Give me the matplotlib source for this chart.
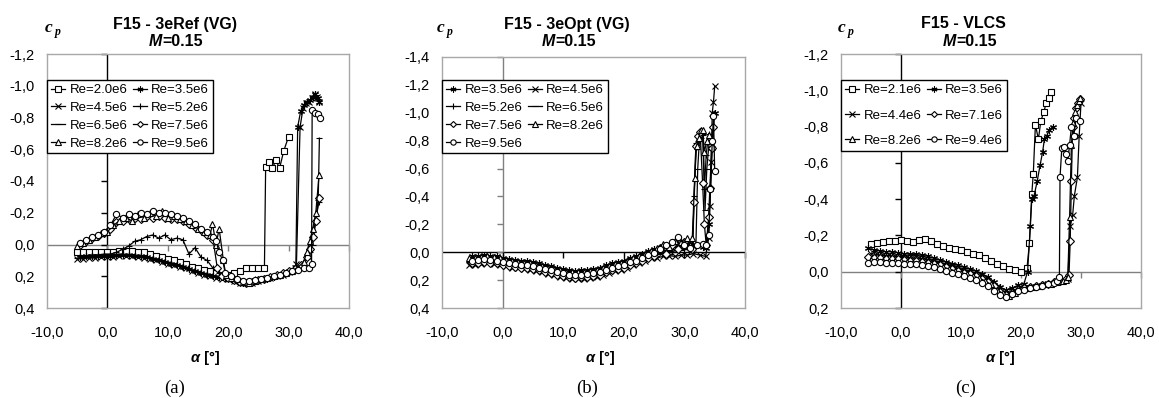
import matplotlib
matplotlib.use('Agg')
import matplotlib.pyplot as plt
from matplotlib.markers import TICKLEFT, TICKDOWN

plt.rcParams['font.family'] = ['Liberation Sans', 'DejaVu Sans']

# ---------------- shared alpha grids ----------------
GA1 = [-5, -4, -3, -2, -1, 0, 1, 2, 3, 4, 5, 6, 7, 8, 9, 10, 11, 12, 13, 14,
       15, 16, 17, 18, 19, 20, 21, 22, 23, 24, 25, 26, 27, 28, 29, 30, 31, 32, 33]
GA2 = [-4.5, -3.5, -2.5, -1.5, -0.5, 0.5, 1.5, 2.5, 3.5, 4.5, 5.5, 6.5, 7.5, 8.5,
       9.5, 10.5, 11.5, 12.5, 13.5, 14.5, 15.5, 16.5, 17.5, 18.5, 19.5, 20.5, 21.5,
       22.5, 23.5, 24.5, 25.5, 26.5, 27.5, 28.5, 29.5, 30.5, 31.5, 32.5]
GB1 = GA1
GB2 = [-5.5] + GA2 + [33.5]
GC1 = GA1[:33]
GC2 = [-5.5] + GA2[:33]

# ---------------- panel (a): F15 - 3eRef (VG) ----------------
A_RE20 = [0.05, 0.05, 0.05, 0.05, 0.045, 0.045, 0.045, 0.04, 0.04, 0.04,
          0.045, 0.05, 0.06, 0.07, 0.08, 0.09, 0.10, 0.11, 0.12, 0.14,
          0.15, 0.16, 0.17, 0.18, 0.19, 0.19, 0.18, 0.17]
A_RE20_TA = [23, 24, 25, 26, 26.2, 26.7, 27.3, 27.9, 28.5, 29.2, 30.0]
A_RE20_TC = [0.15, 0.15, 0.15, 0.145, -0.49, -0.52, -0.48, -0.53, -0.48, -0.59, -0.68]

A_RE35 = [0.08, 0.075, 0.075, 0.07, 0.07, 0.07, 0.065, 0.065, 0.065, 0.07,
          0.075, 0.08, 0.09, 0.10, 0.11, 0.12, 0.13, 0.14, 0.155, 0.17,
          0.18, 0.19, 0.2, 0.205, 0.21, 0.22, 0.23, 0.24, 0.235, 0.23,
          0.22, 0.215, 0.205, 0.195, 0.18, 0.165]
A_RE35_TA = [31.2, 31.5, 32.0, 32.5, 33.0, 33.5, 34.0, 34.4, 34.8, 35.1]
A_RE35_TC = [0.14, -0.74, -0.84, -0.88, -0.9, -0.91, -0.93, -0.95, -0.92, -0.9]

A_RE45 = [0.09, 0.09, 0.085, 0.085, 0.08, 0.08, 0.08, 0.075, 0.075, 0.075,
          0.08, 0.085, 0.09, 0.1, 0.11, 0.12, 0.13, 0.14, 0.15, 0.165,
          0.18, 0.19, 0.2, 0.21, 0.215, 0.22, 0.23, 0.24, 0.245, 0.24,
          0.23, 0.22, 0.21, 0.2, 0.19, 0.175]
A_RE45_TA = [31.0, 31.3, 31.9, 32.4, 32.9, 33.4, 33.9, 34.3, 34.7, 35.0]
A_RE45_TC = [0.15, 0.12, -0.74, -0.86, -0.89, -0.9, -0.92, -0.95, -0.93, -0.9]

A_RE52 = [0.07, 0.07, 0.065, 0.065, 0.06, 0.06, 0.05, 0.03, 0.01, -0.02,
          -0.03, -0.05, -0.06, -0.04, -0.06, -0.03, -0.04, -0.03, 0.06, 0.02,
          0.08, 0.1]
A_RE52_TA = [17.5, 18.5, 19.5, 20.5, 21.5, 22.5, 23.5, 24.5, 25.5, 26.5, 27.5,
             28.5, 29.5, 30.5, 31.5, 32.5, 33.0, 33.5, 34.0, 34.5, 35.0]
A_RE52_TC = [0.15, 0.18, 0.2, 0.21, 0.22, 0.23, 0.23, 0.22, 0.215, 0.21, 0.2,
             0.19, 0.18, 0.17, 0.15, 0.11, 0.06, 0.02, -0.05, -0.15, -0.27]

A_RE65 = [0.085, 0.08, 0.08, 0.075, 0.075, 0.07, 0.07, 0.07, 0.065, 0.065,
          0.07, 0.075, 0.085, 0.09, 0.1, 0.11, 0.12, 0.13, 0.145, 0.16,
          0.17, 0.18, 0.19, 0.2, 0.21, 0.215, 0.225, 0.235, 0.24, 0.235,
          0.225, 0.215, 0.205, 0.195, 0.185, 0.17, 0.155, 0.13, 0.09]
A_RE65_TA = [33.5, 34.0, 34.5, 34.9, 35.1]
A_RE65_TC = [0.05, 0.0, -0.15, -0.28, -0.67]

A_RE75 = [0.0, -0.02, -0.04, -0.055, -0.07, -0.1, -0.14, -0.15, -0.16, -0.17,
          -0.16, -0.18, -0.17, -0.18, -0.17, -0.16, -0.16, -0.15, -0.13, -0.11,
          -0.09, -0.06, -0.03]
A_RE75_TA = [18.2, 19.0, 20.0, 21.0, 22.0, 23.0, 24.0, 25.0, 26.0, 27.0, 28.0,
             29.0, 30.0, 31.0, 32.0, 33.0, 33.5, 34.0, 34.5, 35.0]
A_RE75_TC = [0.15, 0.2, 0.21, 0.225, 0.235, 0.24, 0.235, 0.225, 0.215, 0.205,
             0.195, 0.18, 0.17, 0.155, 0.13, 0.08, 0.03, -0.05, -0.15, -0.29]

A_RE82 = [0.01, -0.01, -0.03, -0.05, -0.07, -0.08, -0.12, -0.15, -0.17, -0.15,
          -0.19, -0.17, -0.2, -0.18, -0.21, -0.17, -0.18, -0.16, -0.15, -0.12,
          -0.1, -0.08, -0.06]
A_RE82_TA = [17.4, 18.0, 18.5, 19.2, 19.6, 20.5, 21.5, 22.5, 23.5, 24.5, 25.5,
             26.5, 27.5, 28.5, 29.5, 30.5, 31.5, 32.5, 33.0, 33.5, 34.0, 34.5, 35.05]
A_RE82_TC = [-0.13, 0.0, -0.1, 0.1, 0.19, 0.21, 0.22, 0.235, 0.24, 0.23, 0.22,
             0.21, 0.2, 0.19, 0.18, 0.165, 0.145, 0.11, 0.05, -0.02, -0.1, -0.2, -0.44]

A_RE95 = [-0.01, -0.03, -0.05, -0.06, -0.08, -0.12, -0.19, -0.17, -0.19, -0.18,
          -0.2, -0.19, -0.21, -0.2, -0.2, -0.19, -0.18, -0.17, -0.15, -0.13,
          -0.1, -0.08, -0.05]
A_RE95_TA = [18.0, 18.5, 19.1, 19.5, 20.5, 21.5, 22.5, 23.5, 24.5, 25.5, 26.5,
             27.5, 28.5, 29.5, 30.5, 31.5, 32.5, 33.3, 33.8, 33.9, 34.4, 34.8, 35.2]
A_RE95_TC = [-0.02, 0.05, 0.1, 0.18, 0.2, 0.215, 0.23, 0.23, 0.225, 0.215, 0.21,
             0.2, 0.19, 0.18, 0.17, 0.16, 0.15, 0.15, 0.12, -0.85, -0.83, -0.82, -0.8]

# ---------------- panel (b): F15 - 3eOpt (VG) ----------------
B_RE35 = [0.03, 0.025, 0.02, 0.025, 0.03, 0.04, 0.05, 0.055, 0.06, 0.065,
          0.07, 0.08, 0.09, 0.1, 0.11, 0.12, 0.13, 0.135, 0.13, 0.125,
          0.12, 0.11, 0.095, 0.08, 0.07, 0.06, 0.04, 0.03, 0.01, -0.01,
          -0.02, -0.03, -0.04, -0.03, -0.05, -0.05, -0.06, -0.05, -0.04]
B_RE35_TA = [33.6, 34.0, 34.3, 34.6, 35.0]
B_RE35_TC = [-0.03, -0.2, -0.45, -0.75, -1.0]

B_RE45 = [0.09, 0.09, 0.085, 0.08, 0.085, 0.09, 0.1, 0.11, 0.115, 0.12,
          0.125, 0.135, 0.145, 0.155, 0.165, 0.175, 0.185, 0.195, 0.195, 0.19,
          0.185, 0.175, 0.165, 0.15, 0.135, 0.125, 0.11, 0.095, 0.08, 0.06,
          0.045, 0.04, 0.03, 0.025, 0.03, 0.02, 0.02, 0.01, 0.02, 0.03]
B_RE45_TA = [34.0, 34.2, 34.4, 34.6, 34.8, 35.0]
B_RE45_TC = [-0.1, -0.33, -0.65, -1.0, -1.08, -1.19]

B_RE52 = [0.055, 0.05, 0.045, 0.05, 0.055, 0.065, 0.075, 0.08, 0.085, 0.09,
          0.095, 0.105, 0.115, 0.125, 0.135, 0.145, 0.155, 0.16, 0.155, 0.15,
          0.145, 0.135, 0.12, 0.105, 0.095, 0.085, 0.065, 0.055, 0.035, 0.015,
          0.005, -0.005, -0.015, -0.005, -0.025, -0.025, -0.035]
B_RE52_TA = [31.4, 31.6, 31.9, 32.2, 32.6, 33.0, 33.3, 33.6, 34.0]
B_RE52_TC = [-0.05, -0.4, -0.78, -0.8, -0.8, -0.84, -0.45, -0.7, -0.85]

B_RE65 = [0.07, 0.07, 0.065, 0.06, 0.065, 0.07, 0.08, 0.09, 0.095, 0.1,
          0.105, 0.115, 0.125, 0.135, 0.145, 0.155, 0.165, 0.173, 0.17, 0.165,
          0.16, 0.15, 0.14, 0.125, 0.113, 0.103, 0.09, 0.073, 0.06, 0.04,
          0.023, 0.013, 0.003, -0.005, 0.0, -0.015, -0.02, -0.025]
B_RE65_TA = [31.9, 32.2, 32.5, 32.8, 33.1, 33.4, 33.7, 34.1]
B_RE65_TC = [-0.05, -0.6, -0.82, -0.82, -0.85, -0.3, -0.6, -0.8]

B_RE75 = [0.08, 0.075, 0.07, 0.075, 0.08, 0.09, 0.1, 0.105, 0.11, 0.115,
          0.12, 0.13, 0.14, 0.15, 0.16, 0.17, 0.18, 0.185, 0.18, 0.175,
          0.17, 0.16, 0.145, 0.13, 0.12, 0.11, 0.09, 0.08, 0.06, 0.04,
          0.03, -0.03, 0.01, -0.05, -0.02, -0.07, -0.03]
B_RE75_TA = [31.3, 31.6, 31.9, 32.2, 32.6, 33.0, 33.3, 33.6, 34.0, 34.2, 34.5, 34.8]
B_RE75_TC = [-0.02, -0.36, -0.76, -0.83, -0.86, -0.5, -0.2, -0.05, -0.25, -0.46, -0.75, -0.9]

B_RE82 = [0.045, 0.04, 0.035, 0.03, 0.035, 0.045, 0.055, 0.065, 0.07, 0.075,
          0.08, 0.09, 0.1, 0.11, 0.12, 0.13, 0.14, 0.145, 0.145, 0.14,
          0.135, 0.125, 0.115, 0.1, 0.085, 0.075, 0.06, 0.045, 0.03, 0.01,
          -0.01, -0.03, -0.06, -0.04, -0.08, -0.07, -0.1]
B_RE82_TA = [31.0, 31.3, 31.7, 32.0, 32.4, 32.7, 33.0, 33.3, 33.7, 34.1]
B_RE82_TC = [-0.05, -0.1, -0.53, -0.76, -0.82, -0.88, -0.88, -0.72, -0.8, -0.84]

B_RE95 = [0.06, 0.055, 0.05, 0.055, 0.06, 0.07, 0.08, 0.085, 0.09, 0.095,
          0.1, 0.11, 0.12, 0.13, 0.14, 0.15, 0.16, 0.165, 0.16, 0.155,
          0.15, 0.14, 0.125, 0.11, 0.1, 0.09, 0.07, 0.06, 0.04, 0.02,
          0.005, -0.02, -0.05, -0.07, -0.11, -0.05, -0.03, -0.05, -0.06]
B_RE95_TA = [33.5, 34.0, 34.3, 34.6, 34.8, 35.0]
B_RE95_TC = [-0.05, -0.12, -0.45, -0.8, -0.98, -0.58]

# ---------------- panel (c): F15 - VLCS ----------------
C_RE21 = [-0.155, -0.16, -0.165, -0.17, -0.17, -0.175, -0.17, -0.165, -0.175, -0.18,
          -0.17, -0.155, -0.14, -0.13, -0.125, -0.12, -0.11, -0.1, -0.09, -0.075,
          -0.06, -0.045, -0.03, -0.015, -0.01, 0.0, -0.02]
C_RE21_TA = [21.4, 21.8, 22.05, 22.4, 22.9, 23.3, 23.8, 24.2, 24.6, 25.0]
C_RE21_TC = [-0.156, -0.43, -0.54, -0.81, -0.73, -0.83, -0.88, -0.93, -0.96, -0.99]

C_RE35 = [-0.13, -0.12, -0.115, -0.11, -0.11, -0.105, -0.1, -0.095, -0.095, -0.09,
          -0.085, -0.075, -0.065, -0.055, -0.045, -0.035, -0.025, -0.015, -0.005, 0.01,
          0.03, 0.055, 0.085, 0.1, 0.09, 0.075, 0.065]
C_RE35_TA = [21.1, 21.55, 21.8, 22.2, 22.7, 23.2, 23.6, 23.9, 24.3, 24.7, 25.3]
C_RE35_TC = [0.0, -0.25, -0.4, -0.42, -0.5, -0.59, -0.66, -0.73, -0.75, -0.78, -0.8]

C_RE44 = [-0.1, -0.095, -0.09, -0.09, -0.085, -0.085, -0.08, -0.075, -0.075, -0.07,
          -0.065, -0.055, -0.045, -0.035, -0.025, -0.015, -0.005, 0.005, 0.02, 0.035,
          0.055, 0.085, 0.11, 0.12, 0.105, 0.09, 0.085, 0.08, 0.075, 0.07,
          0.06, 0.05, 0.04]
C_RE44_TA = [27.8, 28.2, 28.6, 28.9, 29.4, 29.7, 30.0]
C_RE44_TC = [0.04, -0.25, -0.31, -0.42, -0.52, -0.75, -0.93]

C_RE71 = [-0.08, -0.075, -0.075, -0.07, -0.07, -0.07, -0.065, -0.06, -0.06, -0.055,
          -0.05, -0.045, -0.035, -0.025, -0.015, -0.005, 0.005, 0.015, 0.025, 0.04,
          0.055, 0.08, 0.11, 0.13, 0.12, 0.1, 0.09, 0.085, 0.08, 0.075,
          0.065, 0.055, 0.05, 0.04]
C_RE71_TA = [28.0, 28.2, 28.4, 28.6, 28.9, 29.2, 29.5, 29.8]
C_RE71_TC = [0.02, -0.17, -0.5, -0.8, -0.85, -0.9, -0.93, -0.95]

C_RE82 = [-0.065, -0.065, -0.06, -0.06, -0.06, -0.06, -0.055, -0.05, -0.05, -0.045,
          -0.04, -0.035, -0.025, -0.015, -0.005, 0.005, 0.015, 0.025, 0.035, 0.05,
          0.07, 0.1, 0.12, 0.135, 0.115, 0.095, 0.09, 0.085, 0.08, 0.07,
          0.065, 0.055, 0.05]
C_RE82_TA = [27.5, 27.8, 28.1, 28.4, 28.7, 29.0, 29.3, 29.6, 29.9]
C_RE82_TC = [0.045, 0.03, -0.3, -0.7, -0.82, -0.88, -0.92, -0.94, -0.96]

C_RE94 = [-0.05, -0.055, -0.055, -0.05, -0.05, -0.05, -0.045, -0.04, -0.04, -0.035,
          -0.03, -0.025, -0.015, -0.005, 0.005, 0.015, 0.025, 0.035, 0.045, 0.06,
          0.08, 0.105, 0.13, 0.14, 0.125, 0.105, 0.1, 0.09, 0.085, 0.08,
          0.07, 0.06]
C_RE94_TA = [26.0, 26.4, 26.5, 26.8, 27.2, 27.5, 27.8, 28.1, 28.4, 28.8, 29.2, 29.8]
C_RE94_TC = [0.05, 0.03, -0.52, -0.68, -0.69, -0.65, -0.61, -0.7, -0.8, -0.75, -0.85, -0.83]

X_TICKS = [-10, 0, 10, 20, 30, 40]
A_YTICKS = [-1.2, -1.0, -0.8, -0.6, -0.4, -0.2, 0.0, 0.2, 0.4]
B_YTICKS = [-1.4, -1.2, -1.0, -0.8, -0.6, -0.4, -0.2, 0.0, 0.2, 0.4]
C_YTICKS = [-1.2, -1.0, -0.8, -0.6, -0.4, -0.2, 0.0, 0.2]

STAR = (6, 2, 0)

PANEL_A = [
    ('Re=2.0e6', GA1[:28] + A_RE20_TA, A_RE20 + A_RE20_TC, 's'),
    ('Re=3.5e6', GA2[:36] + A_RE35_TA, A_RE35 + A_RE35_TC, STAR),
    ('Re=4.5e6', GA1[:36] + A_RE45_TA, A_RE45 + A_RE45_TC, 'x'),
    ('Re=5.2e6', GA2[:22] + A_RE52_TA, A_RE52 + A_RE52_TC, '+'),
    ('Re=6.5e6', GA1 + A_RE65_TA, A_RE65 + A_RE65_TC, '_'),
    ('Re=7.5e6', GA2[:23] + A_RE75_TA, A_RE75 + A_RE75_TC, 'D'),
    ('Re=8.2e6', GA1[:23] + A_RE82_TA, A_RE82 + A_RE82_TC, '^'),
    ('Re=9.5e6', GA2[:23] + A_RE95_TA, A_RE95 + A_RE95_TC, 'o'),
]
PANEL_B = [
    ('Re=3.5e6', GB1 + B_RE35_TA, B_RE35 + B_RE35_TC, STAR),
    ('Re=4.5e6', GB2 + B_RE45_TA, B_RE45 + B_RE45_TC, 'x'),
    ('Re=5.2e6', GB1[:37] + B_RE52_TA, B_RE52 + B_RE52_TC, '+'),
    ('Re=6.5e6', GB2[:38] + B_RE65_TA, B_RE65 + B_RE65_TC, '_'),
    ('Re=7.5e6', GB1[:37] + B_RE75_TA, B_RE75 + B_RE75_TC, 'D'),
    ('Re=8.2e6', GB2[:37] + B_RE82_TA, B_RE82 + B_RE82_TC, '^'),
    ('Re=9.5e6', GB1 + B_RE95_TA, B_RE95 + B_RE95_TC, 'o'),
]
PANEL_C = [
    ('Re=2.1e6', GC1[:27] + C_RE21_TA, C_RE21 + C_RE21_TC, 's'),
    ('Re=3.5e6', GC2[:27] + C_RE35_TA, C_RE35 + C_RE35_TC, STAR),
    ('Re=4.4e6', GC1 + C_RE44_TA, C_RE44 + C_RE44_TC, 'x'),
    ('Re=7.1e6', GC2 + C_RE71_TA, C_RE71 + C_RE71_TC, 'D'),
    ('Re=8.2e6', GC1 + C_RE82_TA, C_RE82 + C_RE82_TC, '^'),
    ('Re=9.4e6', GC2[:32] + C_RE94_TA, C_RE94 + C_RE94_TC, 'o'),
]

W, H = 1159, 398
fig = plt.figure(figsize=(W / 100, H / 100), dpi=100)


def fx(px):
    return px / W


def fy(py):
    return 1 - py / H


def fmt(v):
    s = f"{v:.1f}".replace('.', ',')
    return '0,0' if s == '-0,0' else s


def msize(m):
    if m == 'D':
        return 3.6
    if m in ('x', '+', '_', STAR):
        return 5.0
    return 4.5


def panel(rect_px, yticks, series, hcol, vcol, order, leg_top_px, labelspacing):
    l, t, r, b = rect_px
    ax = fig.add_axes([fx(l), fy(b), fx(r - l), (b - t) / H])
    ax.set_xlim(-10, 40)
    ax.set_ylim(yticks[-1], yticks[0])
    for s in ax.spines.values():
        s.set_color('#a8a8a8')
        s.set_linewidth(1.0)
    ax.axhline(0, color=hcol, lw=1.0, zorder=1)
    ax.axvline(0, color=vcol, lw=1.0, zorder=1)
    ax.set_xticks(X_TICKS)
    ax.set_xticklabels([fmt(v) for v in X_TICKS])
    ax.set_yticks(yticks)
    ax.set_yticklabels([fmt(v) for v in yticks])
    ax.tick_params(axis='both', length=0, labelsize=10.5)
    ax.tick_params(axis='y', pad=9)
    ax.tick_params(axis='x', pad=13)
    # Excel-style tick marks on the zero axes
    ax.plot([0] * len(yticks), yticks, ls='', marker=TICKLEFT, ms=4, mew=1.0,
            color=vcol, clip_on=False, zorder=2)
    ax.plot(X_TICKS[1:], [0] * (len(X_TICKS) - 1), ls='', marker=TICKDOWN, ms=4,
            mew=1.0, color=hcol, clip_on=False, zorder=2)
    handles = []
    for name, a, c, m in series:
        ln, = ax.plot(a, c, color='black', lw=0.9, marker=m, ms=msize(m),
                      mfc='white', mec='black', mew=0.8, label=name, zorder=3)
        handles.append(ln)
    hs = [handles[i] for i in order]
    leg = ax.legend(hs, [h.get_label() for h in hs], ncol=2, loc='upper left',
                    bbox_to_anchor=(0, (b - leg_top_px) / (b - t)),
                    borderaxespad=0, frameon=True, fancybox=False,
                    edgecolor='black', framealpha=1, fontsize=9.5,
                    handlelength=1.1, handletextpad=0.3, columnspacing=0.4,
                    labelspacing=labelspacing, borderpad=0.3, numpoints=1,
                    markerscale=0.85)
    leg.get_frame().set_linewidth(1.0)
    return ax


panel((47, 54, 349, 308), A_YTICKS, PANEL_A, '#808080', 'black',
      [0, 2, 4, 6, 1, 3, 5, 7], 80, 0.42)
panel((442, 57, 745, 308), B_YTICKS, PANEL_B, 'black', '#808080',
      [0, 2, 4, 6, 1, 3, 5], 80, 0.42)
panel((841, 54, 1141, 308), C_YTICKS, PANEL_C, '#808080', 'black',
      [0, 2, 4, 1, 3, 5], 80, 1.0)

# titles and labels
TITLES = ['F15 - 3eRef (VG)', 'F15 - 3eOpt (VG)', 'F15 - VLCS']
TITLE_X = [175, 567, 963]
MACH_SPLIT = [162, 555.5, 956.5]
CP_X = [45, 437, 838]
XLAB_SPLIT = [200, 595, 995]
SUB_X = [175, 587, 966]
SUBS = ['(a)', '(b)', '(c)']

for i in range(3):
    fig.text(fx(TITLE_X[i]), fy(24), TITLES[i], ha='center', va='center',
             fontsize=11.5, fontweight='bold')
    fig.text(fx(MACH_SPLIT[i]), fy(42), 'M', ha='right', va='center',
             fontsize=11.5, fontweight='bold', style='italic')
    fig.text(fx(MACH_SPLIT[i]), fy(42), '=0.15', ha='left', va='center',
             fontsize=11.5, fontweight='bold')
    fig.text(fx(CP_X[i]), fy(32), 'c', ha='left', va='baseline',
             fontsize=12.5, fontweight='bold', style='italic',
             family=['Liberation Serif', 'DejaVu Serif'])
    fig.text(fx(CP_X[i] + 10), fy(35), 'p', ha='left', va='baseline',
             fontsize=8.5, fontweight='bold', style='italic',
             family=['Liberation Serif', 'DejaVu Serif'])
    fig.text(fx(XLAB_SPLIT[i]), fy(358), 'α', ha='right', va='center',
             fontsize=10.5, fontweight='bold', style='italic')
    fig.text(fx(XLAB_SPLIT[i]), fy(358), ' [°]', ha='left', va='center',
             fontsize=10.5, fontweight='bold')
    fig.text(fx(SUB_X[i]), fy(388), SUBS[i], ha='center', va='center',
             fontsize=13.5, family=['Liberation Serif', 'DejaVu Serif'])

fig.savefig('out.png', dpi=100)
